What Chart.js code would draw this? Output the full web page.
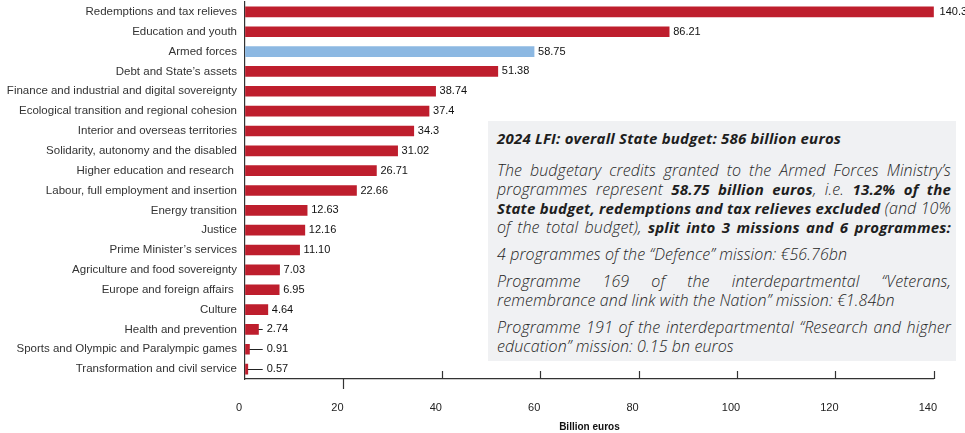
<!DOCTYPE html>
<html>
<head>
<meta charset="utf-8">
<script src="https://cdn.jsdelivr.net/npm/chart.js@4/dist/chart.umd.min.js"></script>
<style>
  html, body { margin: 0; padding: 0; background: #fff; }
  #wrap { position: relative; width: 965px; height: 433px; overflow: hidden; }
  #c { position: absolute; left: 0; top: 0; }
  #box {
    position: absolute; left: 488px; top: 121px; width: 468px; height: 240px;
    background: #f0f1f3; box-sizing: border-box; padding: 6px 5px 0 9px;
    font-family: "Open Sans", "Noto Sans", sans-serif; color: #1e1e1e;
  }
  #box .t { font-weight: 700; font-style: italic; font-size: 15px; line-height: 22px; margin: 0 0 12px 0; letter-spacing: 0.2px; white-space: nowrap; }
  #box .p { margin: 0 0 8px 0; font-size: 16px; line-height: 19px; font-style: italic; font-weight: 300; letter-spacing: 0.1px; }
  #box .p > span { display: block; white-space: nowrap; }
  #box b { font-weight: 700; font-size: 15px; letter-spacing: 0.2px; }
</style>
</head>
<body>
<div id="wrap">
  <canvas id="c" width="965" height="433"></canvas>
  <div id="box">
    <div class="t">2024 LFI: overall State budget: 586 billion euros</div>
    <div class="p">
      <span class="j"><span>The budgetary credits granted to the Armed Forces Ministry’s</span></span>
      <span class="j"><span>programmes represent <b>58.75 billion euros</b>, i.e. <b>13.2% of the</b></span></span>
      <span class="j"><span><b>State budget, redemptions and tax relieves excluded</b> (and 10%</span></span>
      <span class="j"><span>of the total budget), <b>split into 3 missions and 6 programmes:</b></span></span>
    </div>
    <div class="p"><span><span>4 programmes of the “Defence” mission: €56.76bn</span></span></div>
    <div class="p">
      <span class="j"><span>Programme 169 of the interdepartmental “Veterans,</span></span>
      <span><span>remembrance and link with the Nation” mission: €1.84bn</span></span>
    </div>
    <div class="p">
      <span class="j"><span>Programme 191 of the interdepartmental “Research and higher</span></span>
      <span><span>education” mission: 0.15 bn euros</span></span>
    </div>
  </div>
</div>
<script>
// justify the text lines of the note box to its width
(function () {
  const target = 454;
  document.querySelectorAll("#box .j").forEach((line) => {
    const inner = line.firstElementChild;
    const natural = inner.getBoundingClientRect().width;
    const spaces = (inner.textContent.match(/ /g) || []).length;
    if (spaces > 0) inner.style.wordSpacing = ((target - natural) / spaces) + "px";
  });
})();

const categories = [
  "Redemptions and tax relieves",
  "Education and youth",
  "Armed forces",
  "Debt and State’s assets",
  "Finance and industrial and digital sovereignty",
  "Ecological transition and regional cohesion",
  "Interior and overseas territories",
  "Solidarity, autonomy and the disabled",
  "Higher education and research ",
  "Labour, full employment and insertion",
  "Energy transition",
  "Justice",
  "Prime Minister’s services",
  "Agriculture and food sovereignty",
  "Europe and foreign affairs ",
  "Culture",
  "Health and prevention",
  "Sports and Olympic and Paralympic games",
  "Transformation and civil service"
];
const values = [140.35, 86.21, 58.75, 51.38, 38.74, 37.4, 34.3, 31.02, 26.71, 22.66, 12.63, 12.16, 11.10, 7.03, 6.95, 4.64, 2.74, 0.91, 0.57];
const valueLabels = ["140.35", "86.21", "58.75", "51.38", "38.74", "37.4", "34.3", "31.02", "26.71", "22.66", "12.63", "12.16", "11.10", "7.03", "6.95", "4.64", "2.74", "0.91", "0.57"];
const highlighted = "Armed forces";
const xTicks = [0, 20, 40, 60, 80, 100, 120, 140];
const axisTitle = "Billion euros";

const RED = "#be1e2d", BLUE = "#8cb8e2";
const FONT = "'Liberation Sans', Arial, sans-serif";

const labelPlugin = {
  id: "labels",
  afterDatasetsDraw(chart) {
    const ctx = chart.ctx;
    const xs = chart.scales.x;
    const meta = chart.getDatasetMeta(0);
    const leaderEnd = xs.getPixelForValue(3.6);
    ctx.save();
    ctx.font = "11px " + FONT;
    ctx.fillStyle = "#111";
    ctx.textBaseline = "middle";
    ctx.textAlign = "left";
    meta.data.forEach((bar, i) => {
      const v = values[i];
      let tx;
      if (v < 3) {
        ctx.strokeStyle = "#222";
        ctx.lineWidth = 1;
        ctx.beginPath();
        ctx.moveTo(bar.x, Math.round(bar.y) + 0.5);
        ctx.lineTo(leaderEnd, Math.round(bar.y) + 0.5);
        ctx.stroke();
        tx = leaderEnd + 4;
      } else {
        tx = bar.x + 4;
      }
      ctx.fillText(valueLabels[i], tx, bar.y);
    });
    const yb = chart.chartArea.bottom;
    ctx.strokeStyle = "#333";
    ctx.lineWidth = 1.2;
    xTicks.forEach((t) => {
      if (t === 0) return;
      const px = Math.round(xs.getPixelForValue(t)) + 0.5;
      ctx.beginPath();
      if (t === 20) { ctx.moveTo(px, yb); ctx.lineTo(px, yb + 10); }
      else { ctx.moveTo(px, yb - 8); ctx.lineTo(px, yb); }
      ctx.stroke();
    });
    ctx.restore();
  }
};

new Chart(document.getElementById("c"), {
  type: "bar",
  data: {
    labels: categories,
    datasets: [{
      data: values,
      backgroundColor: categories.map(c => c === highlighted ? BLUE : RED),
      barThickness: 10,
      borderWidth: 0
    }]
  },
  options: {
    indexAxis: "y",
    responsive: false,
    animation: false,
    devicePixelRatio: 1,
    layout: { padding: { left: 0, right: 25, top: 2, bottom: 0 } },
    plugins: { legend: { display: false }, tooltip: { enabled: false } },
    scales: {
      x: {
        min: 0, max: 140,
        afterBuildTicks(s) { s.ticks = xTicks.map(v => ({ value: v })); },
        afterFit(s) { s.height = 54; },
        grid: { display: true, drawOnChartArea: false, drawTicks: false, color: "transparent" },
        border: { display: true, color: "#333", width: 1.2 },
        ticks: { padding: 22, labelOffset: -6, color: "#222", font: { family: FONT, size: 11 }, maxRotation: 0 },
        title: { display: true, text: axisTitle, color: "#111", font: { family: FONT, size: 10, weight: "bold" }, padding: { top: 9, bottom: 0 } }
      },
      y: {
        afterFit(s) { s.width = 245; s.paddingTop = 0; s.paddingBottom = 0; },
        grid: { display: false, drawTicks: false },
        border: { display: true, color: "#333", width: 1.2 },
        ticks: { padding: 8, color: "#333", font: { family: FONT, size: 11.5 }, autoSkip: false }
      }
    }
  },
  plugins: [labelPlugin]
});
</script>
</body>
</html>
